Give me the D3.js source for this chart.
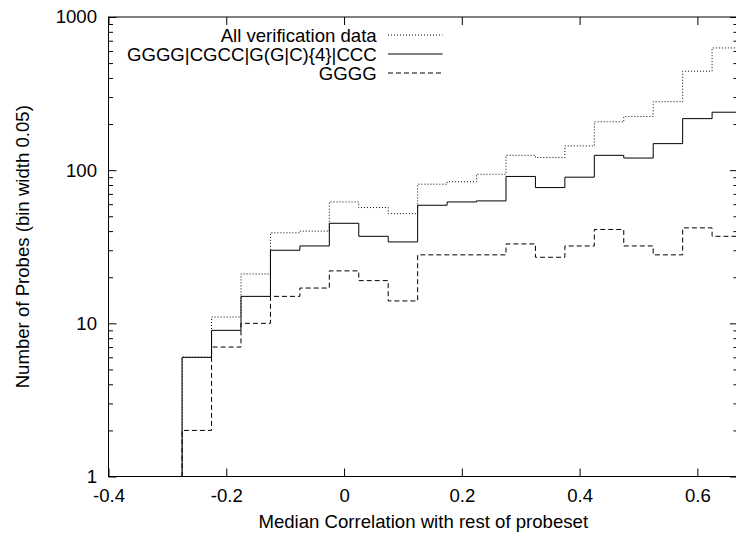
<!DOCTYPE html>
<html>
<head>
<meta charset="utf-8">
<script src="https://cdn.jsdelivr.net/npm/d3@7"></script>
<style>
  html, body { margin: 0; padding: 0; background: #fff; }
  svg { display: block; }
  text { font-family: "Liberation Sans", Arial, Helvetica, sans-serif; fill: #000; }
</style>
</head>
<body>
<svg id="chart" width="736" height="535"></svg>
<script>
// ---- data ----
const binCenters = [-0.25, -0.20, -0.15, -0.10, -0.05, 0.00, 0.05, 0.10, 0.15, 0.20,
                    0.25, 0.30, 0.35, 0.40, 0.45, 0.50, 0.55, 0.60, 0.65];
const binWidth = 0.05;
const allVerification = [6, 11, 21, 39, 40, 62, 57, 52, 81, 84, 94, 125, 121, 144, 207, 224, 280, 443, 628];
const motifCounts     = [6, 9, 15, 30, 32, 45, 37, 34, 59, 62, 63, 91, 77, 90, 125, 120, 149, 217, 239];
const ggggCounts      = [2, 7, 10, 15, 17, 22, 19, 14, 28, 28, 28, 33, 27, 32, 41, 32, 28, 42, 37];
const seriesNames = ["All verification data", "GGGG|CGCC|G(G|C){4}|CCC", "GGGG"];
const xTicks = [-0.4, -0.2, 0, 0.2, 0.4, 0.6];
const yTicks = [1, 10, 100, 1000];
const xTitle = "Median Correlation with rest of probeset";
const yTitle = "Number of Probes (bin width 0.05)";
const xMin = -0.4, xMax = 0.669;
const yMin = 1, yMax = 1000;

(function () {
// ---- layout ----
const pLeft = 108.5, pRight = 738, pTop = 17, pBottom = 476.5;
const fontSize = 18.6;

const svg = d3.select("#chart");
const x = d3.scaleLinear().domain([xMin, xMax]).range([pLeft, pRight]);
const y = d3.scaleLog().domain([yMin, yMax]).range([pBottom, pTop]);

// minor ticks for log axis
const yMinor = [];
for (let d = 1; d < yMax; d *= 10) for (let k = 2; k <= 9; k++) yMinor.push(d * k);

function styleAxis(g) {
  g.select(".domain").remove();
  g.selectAll("line").attr("stroke", "#000").attr("stroke-width", 1);
  g.selectAll("text").style("font-size", fontSize + "px")
    .style("font-family", '"Liberation Sans", Arial, Helvetica, sans-serif').attr("fill", "#000");
  g.attr("font-family", null).attr("font-size", null);
}

// bottom axis
svg.append("g").attr("transform", `translate(0,${pBottom})`)
  .call(d3.axisBottom(x).tickValues(xTicks).tickFormat(d => String(d)).tickSizeInner(-8).tickSizeOuter(0).tickPadding(11.8))
  .call(styleAxis);
// top axis (ticks only)
svg.append("g").attr("transform", `translate(0,${pTop})`)
  .call(d3.axisTop(x).tickValues(xTicks).tickFormat("").tickSizeInner(-8).tickSizeOuter(0))
  .call(styleAxis);
// left axis
svg.append("g").attr("transform", `translate(${pLeft},0)`)
  .call(d3.axisLeft(y).tickValues(yTicks).tickFormat(d => String(d)).tickSizeInner(-8).tickSizeOuter(0).tickPadding(11.5))
  .call(styleAxis);
svg.append("g").attr("transform", `translate(${pLeft},0)`)
  .call(d3.axisLeft(y).tickValues(yMinor).tickFormat("").tickSizeInner(-4.5).tickSizeOuter(0))
  .call(styleAxis);
// right axis
svg.append("g").attr("transform", `translate(${pRight},0)`)
  .call(d3.axisRight(y).tickValues(yTicks).tickFormat("").tickSizeInner(-8).tickSizeOuter(0))
  .call(styleAxis);
svg.append("g").attr("transform", `translate(${pRight},0)`)
  .call(d3.axisRight(y).tickValues(yMinor).tickFormat("").tickSizeInner(-4.5).tickSizeOuter(0))
  .call(styleAxis);

// frame
svg.append("rect").attr("x", pLeft).attr("y", pTop)
  .attr("width", pRight - pLeft).attr("height", pBottom - pTop)
  .attr("fill", "none").attr("stroke", "#000").attr("stroke-width", 1);

// clip
svg.append("clipPath").attr("id", "plotclip").append("rect")
  .attr("x", pLeft).attr("y", pTop).attr("width", pRight - pLeft).attr("height", pBottom - pTop);

// step paths (histeps style)
function stepPoints(values) {
  const pts = [];
  const e0 = binCenters[0] - binWidth / 2;
  pts.push([x(e0), y(yMin)]);
  values.forEach((v, i) => {
    const l = binCenters[i] - binWidth / 2, r = binCenters[i] + binWidth / 2;
    pts.push([x(l), y(v)]);
    pts.push([x(r), y(v)]);
  });
  return pts;
}
const line = d3.line();
const styles = [
  { data: allVerification, dash: "1,2" },
  { data: motifCounts, dash: null },
  { data: ggggCounts, dash: "5,3" }
];
const plot = svg.append("g").attr("clip-path", "url(#plotclip)");
styles.forEach(s => {
  plot.append("path").attr("d", line(stepPoints(s.data)))
    .attr("fill", "none").attr("stroke", "#000").attr("stroke-width", 1)
    .attr("stroke-dasharray", s.dash);
});

// legend
const legendTextRight = 376.7, sampleX0 = 388, sampleX1 = 442.5;
const legendRows = [35, 54, 73];
seriesNames.forEach((name, i) => {
  svg.append("text").attr("x", legendTextRight).attr("y", legendRows[i]).attr("dy", "0.35em")
    .attr("text-anchor", "end").style("font-size", fontSize + "px").text(name);
  svg.append("line").attr("x1", sampleX0).attr("x2", sampleX1)
    .attr("y1", legendRows[i]).attr("y2", legendRows[i])
    .attr("stroke", "#000").attr("stroke-width", 1).attr("stroke-dasharray", styles[i].dash);
});

// axis titles
svg.append("text").attr("x", (pLeft + pRight) / 2).attr("y", 528)
  .attr("text-anchor", "middle").style("font-size", fontSize + "px").text(xTitle);
svg.append("text").attr("transform", `translate(28.5,${(pTop + pBottom) / 2}) rotate(-90)`)
  .attr("text-anchor", "middle").style("font-size", fontSize + "px").text(yTitle);
})();
</script>
</body>
</html>
